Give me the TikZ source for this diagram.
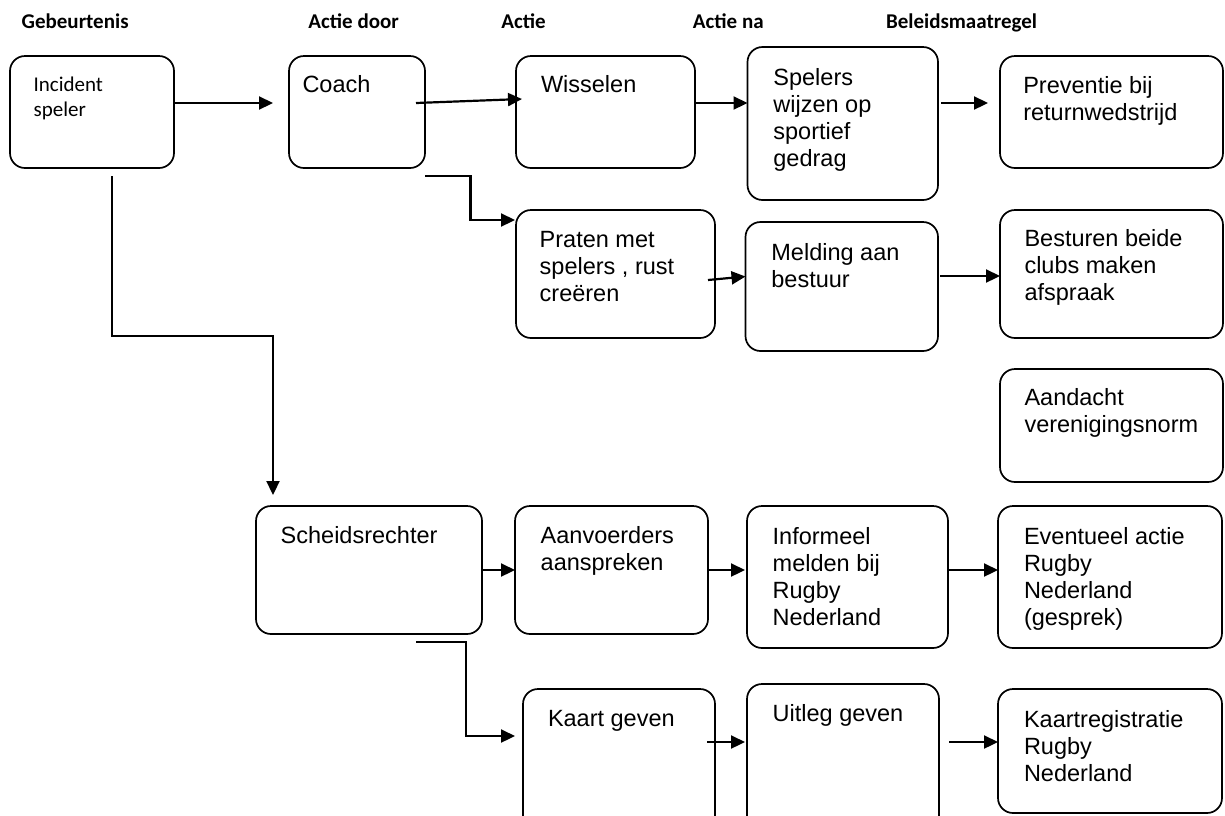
\documentclass[tikz,border=0pt]{standalone}
\usepackage{fontspec}
\setmainfont{Liberation Sans}
\newfontfamily\calibri{Carlito}
\usetikzlibrary{arrows.meta}
\newcommand{\ml}[1]{\begin{tabular}[t]{@{}l@{}}#1\end{tabular}}
\tikzset{
  box/.style={draw=black, line width=1.7pt, rounded corners=15pt, anchor=north west, inner sep=0pt, outer sep=0pt, fill=white},
  txt/.style={anchor=base west, inner sep=0pt, outer sep=0pt, font=\fontsize{23.5}{27}\selectfont},
  smalltxt/.style={anchor=base west, inner sep=0pt, outer sep=0pt, font=\calibri\fontsize{21}{25}\selectfont},
  head/.style={anchor=base west, inner sep=0pt, outer sep=0pt, font=\calibri\bfseries\fontsize{21}{24}\selectfont},
  arr/.style={line width=2.2pt, -{Triangle[length=14pt,width=13pt]}},
}
\begin{document}
\begin{tikzpicture}[x=1pt,y=-1pt]
\useasboundingbox (0,0) rectangle (1225,815);
\clip (0,0) rectangle (1225,815);
\fill[white] (0,0) rectangle (1225,815);
% headers
\node[head] (h1) at (21.7,28.3) {Gebeurtenis};
\node[head] (h2) at (308.4,28.3) {Actie door};
\node[head] (h3) at (501.4,28.3) {Actie};
\node[head] (h4) at (692.9,28.3) {Actie na};
\node[head] (h5) at (886,28.3) {Beleidsmaatregel};
% boxes
\node[box, minimum width=164pt, minimum height=112pt] (inc) at (10,56) {};
\node[box, minimum width=136pt, minimum height=112pt] (coach) at (289,56) {};
\node[box, minimum width=179pt, minimum height=112pt] (wis) at (516,56) {};
\node[box, minimum width=190.5pt, minimum height=153pt] (spel) at (747.5,47) {};
\node[box, minimum width=223pt, minimum height=112pt] (prev) at (1000,56) {};
\node[box, minimum width=199pt, minimum height=128pt] (praten) at (516,210) {};
\node[box, minimum width=192.5pt, minimum height=129pt] (meld) at (745.5,222) {};
\node[box, minimum width=223pt, minimum height=128pt] (best) at (1000,210) {};
\node[box, minimum width=223pt, minimum height=113pt] (aand) at (1000,369) {};
\node[box, minimum width=226pt, minimum height=128pt] (sch) at (256,506) {};
\node[box, minimum width=193pt, minimum height=128pt] (aan) at (515,506) {};
\node[box, minimum width=201pt, minimum height=142pt] (inf) at (747,506) {};
\node[box, minimum width=224pt, minimum height=142pt] (even) at (998,506) {};
\node[box, minimum width=192pt, minimum height=141pt] (kaart) at (523,689) {};
\node[box, minimum width=192pt, minimum height=146pt] (uit) at (747,684) {};
\node[box, minimum width=224pt, minimum height=124pt] (kreg) at (998,689) {};
% texts
\node[smalltxt] (tinc) at (33.6,91.7) {\ml{Incident\\speler}};
\node[txt] (tcoach) at (302.5,92.7) {Coach};
\node[txt] (twis) at (541,92.7) {Wisselen};
\node[txt] (tspel) at (773.4,85) {\ml{Spelers\\wijzen op\\sportief\\gedrag}};
\node[txt] (tprev) at (1023.3,93.3) {\ml{Preventie bij\\returnwedstrijd}};
\node[txt] (tpraten) at (539.7,247.3) {\ml{Praten met\\spelers , rust\\creëren}};
\node[txt] (tmeld) at (771.4,260) {\ml{Melding aan\\bestuur}};
\node[txt] (tbest) at (1024.5,246.7) {\ml{Besturen beide\\clubs maken\\afspraak}};
\node[txt] (taand) at (1024.5,405) {\ml{Aandacht\\verenigingsnorm}};
\node[txt] (tsch) at (280.7,543) {Scheidsrechter};
\node[txt] (taan) at (540.7,543) {\ml{Aanvoerders\\aanspreken}};
\node[txt] (tinf) at (772.7,544) {\ml{Informeel\\melden bij\\Rugby\\Nederland}};
\node[txt] (teven) at (1024,544) {\ml{Eventueel actie\\Rugby\\Nederland\\(gesprek)}};
\node[txt] (tkaart) at (548,726) {Kaart geven};
\node[txt] (tuit) at (772.7,721) {Uitleg geven};
\node[txt] (tkreg) at (1024,727) {\ml{Kaartregistratie\\Rugby\\Nederland}};
% connectors
\draw[arr] ([yshift=9pt]inc.east) -- ([xshift=-16pt,yshift=9pt]coach.west);
\draw[arr] ([xshift=-9pt,yshift=9pt]coach.east) -- ([xshift=6pt,yshift=13pt]wis.west);
\draw[arr] ([yshift=9pt]wis.east) -- ([yshift=20.5pt]spel.west);
\draw[arr] ([xshift=3pt,yshift=20.5pt]spel.east) -- ([xshift=-12pt,yshift=9pt]prev.west);
\draw[arr] ([yshift=-8pt]coach.south east) -| ([xshift=-45.5pt,yshift=-10pt]praten.north west) -- ([xshift=-1pt,yshift=-10pt]praten.north west);
\draw[arr] ([xshift=-7pt,yshift=-6pt]praten.east) -- ([yshift=10pt]meld.west);
\draw[arr] ([xshift=2pt,yshift=10.5pt]meld.east) -- ([yshift=-2pt]best.west);
\draw[arr] ([xshift=20pt,yshift=-8pt]inc.south) |- ([xshift=17pt,yshift=170pt]sch.north west) -- ([xshift=17pt,yshift=11pt]sch.north west);
\draw[arr] (sch.east) -- (aan.west);
\draw[arr] ([xshift=-66pt,yshift=-8pt]sch.south east) -| ([xshift=-57pt,yshift=-47pt]kaart.north west) -- ([xshift=-8pt,yshift=-47pt]kaart.north west);
\draw[arr] (aan.east) -- ([xshift=-2pt]inf.west |- aan.east);
\draw[arr] ([xshift=1pt]inf.east |- aan.east) -- (even.west |- aan.east);
\draw[arr] ([xshift=-8pt,yshift=-53pt]kaart.north east) -- ([xshift=-2pt,yshift=-58pt]uit.north west);
\draw[arr] ([xshift=10pt,yshift=-58pt]uit.north east) -- ([yshift=-53pt]kreg.north west);
\end{tikzpicture}
\end{document}
